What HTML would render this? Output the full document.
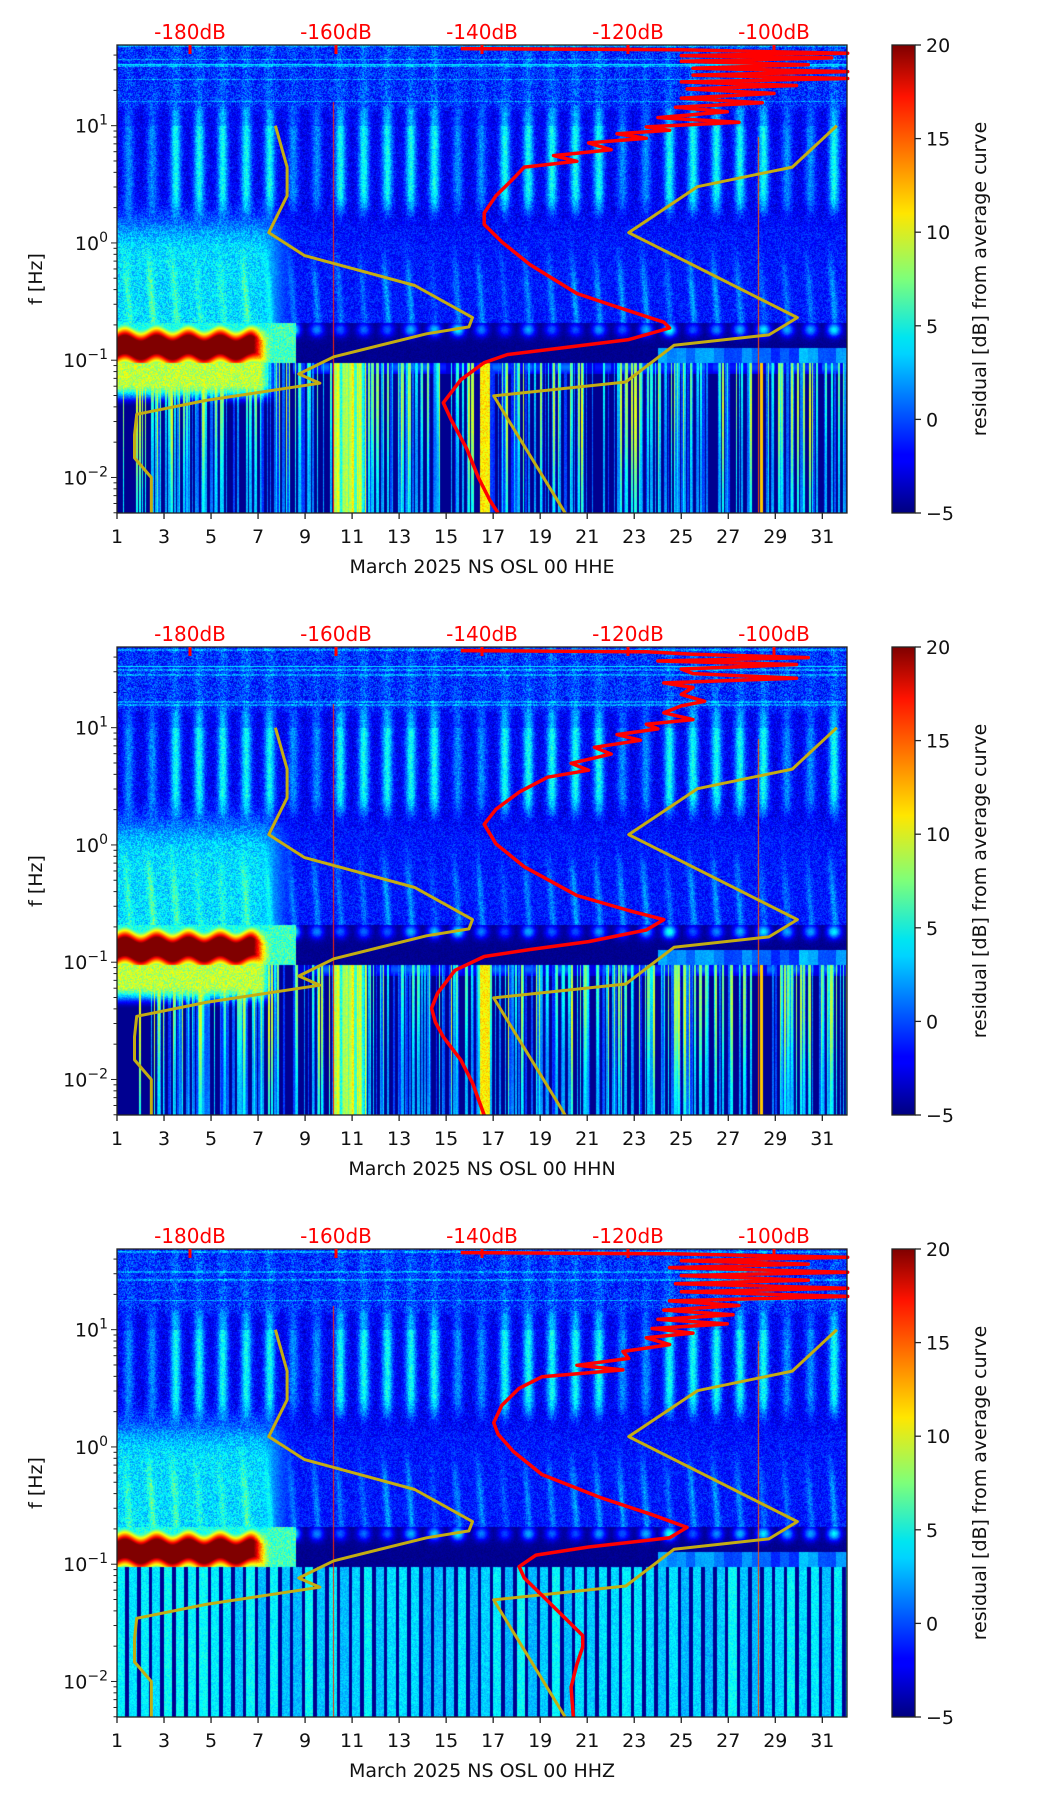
<!DOCTYPE html>
<html><head><meta charset="utf-8">
<style>
html,body{margin:0;padding:0;background:#fff;}
#root{position:relative;width:1052px;height:1806px;overflow:hidden;font-family:"DejaVu Sans","Liberation Sans",sans-serif;}
canvas{position:absolute;}
svg{position:absolute;left:0;top:0;}
</style></head>
<body>
<div id="root">
<canvas id="c0" width="730" height="468" style="left:117px;top:45px"></canvas>
<canvas id="c1" width="730" height="468" style="left:117px;top:647px"></canvas>
<canvas id="c2" width="730" height="468" style="left:117px;top:1249px"></canvas>
<svg id="ov" width="1052" height="1806" xmlns="http://www.w3.org/2000/svg">
<defs>
<linearGradient id="jet" x1="0" y1="1" x2="0" y2="0">
<stop offset="0" stop-color="#00007f"/><stop offset="0.11" stop-color="#0000ff"/>
<stop offset="0.125" stop-color="#0000ff"/><stop offset="0.34" stop-color="#00d4ff"/>
<stop offset="0.375" stop-color="#00e5f0"/><stop offset="0.5" stop-color="#7dff7a"/>
<stop offset="0.64" stop-color="#ffe600"/><stop offset="0.89" stop-color="#ff1300"/>
<stop offset="1" stop-color="#7f0000"/>
</linearGradient>
</defs>
</svg>
</div>
<script>
// ---- data ----
const panelNames = ["HHE","HHN","HHZ"];
const dayTicks = [1,3,5,7,9,11,13,15,17,19,21,23,25,27,29,31];
const dbTicks = [-180,-160,-140,-120,-100];
const decadeTicks = [1,0,-1,-2];
const cbarTicks = [-5,0,5,10,15,20];
const nlnmLogF = [1.0,0.647,0.402,0.088,-0.108,-0.363,-0.637,-0.716,-0.775,-0.971,-1.118,-1.196,-1.343,-1.461,-1.637,-1.833,-2.0,-2.304];
const nlnmDb = [-168.3,-166.7,-166.7,-169.2,-164.3,-149.2,-141.3,-141.8,-147.6,-160.3,-165.1,-162.2,-177.8,-187.3,-187.6,-187.6,-185.3,-185.3];
const nhnmLogF = [1.0,0.647,0.480,0.088,-0.637,-0.784,-0.873,-1.186,-1.304,-2.304];
const nhnmDb = [-91.4,-97.5,-110.5,-119.9,-96.8,-100.7,-113.7,-120.3,-138.4,-128.6];
const redLogF0 = [1.657,1.647,1.618,1.598,1.578,1.549,1.520,1.490,1.461,1.431,1.402,1.373,1.343,1.314,1.275,1.235,1.196,1.157,1.118,1.069,1.029,0.990,0.961,0.931,0.892,0.853,0.794,0.745,0.696,0.647,0.549,0.402,0.255,0.157,0.010,-0.186,-0.431,-0.529,-0.627,-0.676,-0.725,-0.824,-0.892,-0.951,-1.020,-1.167,-1.363,-1.510,-1.755,-2.0,-2.196,-2.304];
const redDb0 = [-142.9,-112.7,-89.9,-112.7,-92.1,-112.7,-95.3,-111.1,-89.9,-111.1,-89.9,-112.7,-96.9,-111.9,-100.0,-112.7,-101.6,-113.5,-106.4,-115.9,-104.8,-117.5,-114.3,-121.5,-117.5,-125.4,-122.3,-130.2,-127.0,-134.2,-135.7,-138.1,-139.7,-139.7,-137.3,-133.4,-127.0,-122.3,-117.5,-115.1,-114.3,-119.9,-128.6,-136.5,-139.7,-142.9,-145.3,-144.2,-142.1,-140.5,-138.9,-137.8];
const redLogF1 = [1.657,1.647,1.627,1.598,1.569,1.539,1.5,1.461,1.422,1.382,1.343,1.284,1.225,1.186,1.127,1.069,1.029,0.990,0.941,0.892,0.833,0.775,0.696,0.637,0.578,0.451,0.304,0.176,0.010,-0.186,-0.431,-0.559,-0.637,-0.725,-0.824,-0.892,-0.951,-1.069,-1.265,-1.392,-1.510,-1.637,-1.833,-2.029,-2.304];
const redDb1 = [-142.9,-117.5,-111.1,-95.3,-115.9,-96.9,-112.7,-111.1,-96.9,-115.1,-111.1,-112.7,-109.5,-112.7,-115.1,-111.1,-117.5,-115.9,-121.5,-118.3,-124.6,-122.3,-127.8,-125.4,-131.0,-134.9,-138.1,-139.7,-138.1,-134.2,-127.0,-119.9,-115.1,-117.5,-125.4,-133.4,-139.7,-143.7,-146.1,-146.9,-146.4,-145.3,-142.9,-141.3,-139.7];
const redLogF2 = [1.657,1.647,1.618,1.588,1.559,1.529,1.490,1.461,1.422,1.392,1.353,1.324,1.284,1.245,1.206,1.167,1.127,1.088,1.049,1.010,0.971,0.931,0.873,0.814,0.755,0.696,0.657,0.598,0.5,0.353,0.206,0.108,-0.039,-0.235,-0.431,-0.578,-0.686,-0.775,-0.853,-0.922,-1.020,-1.118,-1.265,-1.461,-1.608,-1.706,-1.853,-2.049,-2.304];
const redDb2 = [-142.9,-114.3,-89.9,-112.7,-95.3,-114.3,-89.9,-112.7,-95.3,-113.5,-89.9,-112.7,-89.9,-114.3,-104.8,-115.1,-105.6,-115.9,-106.4,-116.7,-111.1,-117.5,-114.3,-120.7,-119.9,-127.0,-120.7,-131.8,-134.9,-137.3,-138.4,-137.8,-135.7,-131.8,-123.8,-116.7,-111.9,-114.3,-125.4,-132.6,-134.9,-134.2,-131.8,-128.6,-126.2,-126.2,-127.0,-127.8,-127.5];
const redLogFs = [redLogF0, redLogF1, redLogF2];
const redDbs = [redDb0, redDb1, redDb2];

// ---- geometry ----
const L=117, W=730, H=468, TOPS=[45,647,1249];
const D0=1, D1=32.05, LF0=-2.303, LF1=1.688, DB0=-190, DB1=-90;
const CBX=892, CBW=23;
function xDay(d){return L+(d-D0)/(D1-D0)*W;}
function xDb(db){return L+(db-DB0)/(DB1-DB0)*W;}
function yLog(top,lf){return top+(LF1-lf)/(LF1-LF0)*H;}
function yCb(top,v){return top+(20-v)/25*H;}

// ---- colormap & texture ----
function jet(t){t=Math.max(0,Math.min(1,t));
  const c=x=>Math.max(0,Math.min(1,x));
  return [c(1.5-Math.abs(4*t-3))*255,c(1.5-Math.abs(4*t-2))*255,c(1.5-Math.abs(4*t-1))*255];}
function hash(a,b){let s=Math.sin(a*127.1+b*311.7)*43758.5453;return s-Math.floor(s);}
function sm(a,b,x){const t=Math.max(0,Math.min(1,(x-a)/(b-a)));return t*t*(3-2*t);}
function val(p,d,lf,ix,iy){
  const n=hash(ix,iy+p*1000)-0.5;
  const di=Math.floor(d), fr=d-di;
  const wd=(di-1+5)%7; const wk=(wd>=5)?0.55:1;
  const day=Math.exp(-Math.pow((fr-0.5)/0.22,2));
  if(Math.abs(d-10.22)<0.02 && lf<1.2) return 16;
  if(Math.abs(d-28.3)<0.02 && lf<0.9) return 15;
  // left-side (days 1-8) broad energetic region, smooth in both directions
  const leftW=sm(8.6,7.0,d+ (n*0.4));
  let v;
  if(lf>-0.68){
    const hi=sm(0.05,0.3,lf);          // 0 = microseism region, 1 = cultural band
    const top=sm(1.1,1.2,lf);
    const st=day*wk*(lf<1.0?7:5)*sm(0.1,0.45,lf);
    let vh=-2.3+n*3+st*(1-top*0.7)+top*(1.3+n*1.5);
    if(top>0.5 && hash(3,Math.floor(lf*70)+p*77)>0.82) vh+=2.5;
    if(p<2 && Math.abs(lf-1.52)<0.006) vh=4;
    let vl=-1.4+n*3;
    const pl=Math.exp(-Math.pow((fr-0.55+(lf+0.68)*0.35)/0.14,2))*(0.4+0.6*hash(di,3));
    vl+=3.5*pl*sm(0.1,-0.4,lf);
    v=vh*hi+vl*(1-hi);
    v+=leftW*5.5*sm(0.45,-0.1,lf)*(0.9+0.2*n);
  } else if(lf>-1.02){
    const amp=4+6*hash(di,5);
    const blob=Math.exp(-Math.pow((fr-0.5)/0.3,2))*Math.exp(-Math.pow((lf+0.74)/0.06,2));
    v=-4.6+blob*amp+n*0.8;
    if(d>24 && lf<-0.9){v=Math.max(v,-1+4*hash(Math.floor(d*2.5),7)+n);}
    if(d<8.6){
      const c=-0.89+0.025*Math.sin((d-1)*2*Math.PI/1.35);
      const dist=Math.abs(lf-c);
      let r=22-Math.max(0,dist-0.065)*160;
      const edge=sm(7.6,6.6,d);
      r=r*edge+(1-edge)*(6+n*4);
      const lw=sm(8.6,7.4,d);
      v=Math.max(r,(5+n*3)*lw+v*(1-lw));
    }
  } else {
    if(p<2){
      const ci=Math.floor(d*16); const h=hash(ci,11+p);
      const vm=0.75+0.25*Math.sin(lf*3+h*6);
      v=-4.6;
      if(h>0.45) v=-1+(h-0.45)*20*vm+n*1.2;
      if(d<2.4 && h<0.9) v=-4.6;
      if(d>=10.2&&d<=11.6) v=3+hash(ci,2)*8+n*2;
      if(d>=16.45&&d<=16.85) v=11+n*3;
      if(d>=28.0&&d<=28.6) v=(Math.abs(d-28.4)<0.07)?12:-4.6;
      const yb=sm(-1.4,-1.2,lf)*sm(8.0,7.0,d);
      v=v*(1-yb)+(9+n*4)*yb;
      if(d>=8.5 && lf>-1.12){v=Math.max(v,-3+4*hash(Math.floor(d*3),9)*Math.exp(-Math.pow((lf+1.06)/0.05,2)));}
    } else {
      const f2=(d*2)%1;
      v=(f2<0.7)?2.5+n*2+hash(Math.floor(d*2),1)*2:-4.6;
    }
  }
  return Math.max(-5,Math.min(20,v));
}
function drawHeat(p){
  const cv=document.getElementById('c'+p), ctx=cv.getContext('2d');
  const img=ctx.createImageData(W,H);
  for(let iy=0;iy<H;iy++){
    const lf=LF1-(iy+0.5)/H*(LF1-LF0);
    for(let ix=0;ix<W;ix++){
      const d=D0+(ix+0.5)/W*(D1-D0);
      const c=jet((val(p,d,lf,ix,iy)+5)/25);
      const k=(iy*W+ix)*4;
      img.data[k]=c[0];img.data[k+1]=c[1];img.data[k+2]=c[2];img.data[k+3]=255;
    }
  }
  ctx.putImageData(img,0,0);
}

// ---- svg ----
const NS='http://www.w3.org/2000/svg';
const ov=document.getElementById('ov');
function el(tag,attrs,txt){const e=document.createElementNS(NS,tag);for(const k in attrs)e.setAttribute(k,attrs[k]);if(txt!==undefined)e.textContent=txt;ov.appendChild(e);return e;}
function poly(top,lfs,dbs,color,name,w){
  let pts=[];for(let i=0;i<lfs.length;i++)pts.push(xDb(dbs[i]).toFixed(1)+','+yLog(top,lfs[i]).toFixed(1));
  const e=el('polyline',{points:pts.join(' '),fill:'none',stroke:color,'stroke-width':w,'stroke-linejoin':'round'});
  
  
}
for(let p=0;p<3;p++){
  drawHeat(p);
  const top=TOPS[p], bot=top+H;
  poly(top,nlnmLogF,nlnmDb,'#c4ad12','nlnm-curve',3);
  poly(top,nhnmLogF,nhnmDb,'#c4ad12','nhnm-curve',3);
  poly(top,redLogFs[p],redDbs[p],'#ff0000','average-psd-curve',3.5);
  const fr=el('rect',{x:L,y:top,width:W,height:H,fill:'none',stroke:'#222','stroke-width':1.3});
  
  
  for(const d of dayTicks){
    const x=xDay(d);
    el('line',{x1:x,y1:bot,x2:x,y2:bot+6,stroke:'#222','stroke-width':1.3});
    const t=el('text',{x:x,y:bot+30,'text-anchor':'middle','font-size':19,fill:'#111'},String(d));
    
    
  }
  for(const db of dbTicks){
    const x=xDb(db);
    el('line',{x1:x,y1:top,x2:x,y2:top+9,stroke:'#ff0000','stroke-width':3});
    const t=el('text',{x:x,y:top-6,'text-anchor':'middle','font-size':20,fill:'#ff0000'},db+'dB');
    
    
  }
  for(let e=-3;e<=1;e++){
    for(let m=1;m<10;m++){
      const lf=e+Math.log10(m);
      if(lf<LF0||lf>LF1)continue;
      const y=yLog(top,lf);
      el('line',{x1:L-(m===1?6:3.5),y1:y,x2:L,y2:y,stroke:'#222','stroke-width':1});
    }
  }
  for(const e of decadeTicks){
    const y=yLog(top,e);
    const t=el('text',{x:L-9,y:y+7,'text-anchor':'end','font-size':19,fill:'#111'});
    
    
    const a=document.createElementNS(NS,'tspan');a.textContent='10';t.appendChild(a);
    const b=document.createElementNS(NS,'tspan');b.setAttribute('dy','-8');b.setAttribute('font-size','14');b.textContent=(e<0?'\u2212'+(-e):String(e));t.appendChild(b);
  }
  const yl=el('text',{x:0,y:0,transform:'translate(42,'+(top+H/2)+') rotate(-90)','text-anchor':'middle','font-size':19,fill:'#111'},'f [Hz]');
  
  
  const xl=el('text',{x:L+W/2,y:bot+60,'text-anchor':'middle','font-size':19,fill:'#111'},'March 2025 NS OSL 00 '+panelNames[p]);
  
  
  const cb=el('rect',{x:CBX,y:top,width:CBW,height:H,fill:'url(#jet)',stroke:'#222','stroke-width':1.3});
  
  
  for(const v of cbarTicks){
    const y=yCb(top,v);
    el('line',{x1:CBX+CBW,y1:y,x2:CBX+CBW+6,y2:y,stroke:'#222','stroke-width':1.3});
    const t=el('text',{x:CBX+CBW+11,y:y+7,'font-size':19,fill:'#111'},v<0?'\u2212'+(-v):String(v));
    
    
  }
  const ct=el('text',{x:0,y:0,transform:'translate(986,'+(top+H/2)+') rotate(-90)','text-anchor':'middle','font-size':19,fill:'#111'},'residual [dB] from average curve');
  
  
}
</script>
</body></html>
